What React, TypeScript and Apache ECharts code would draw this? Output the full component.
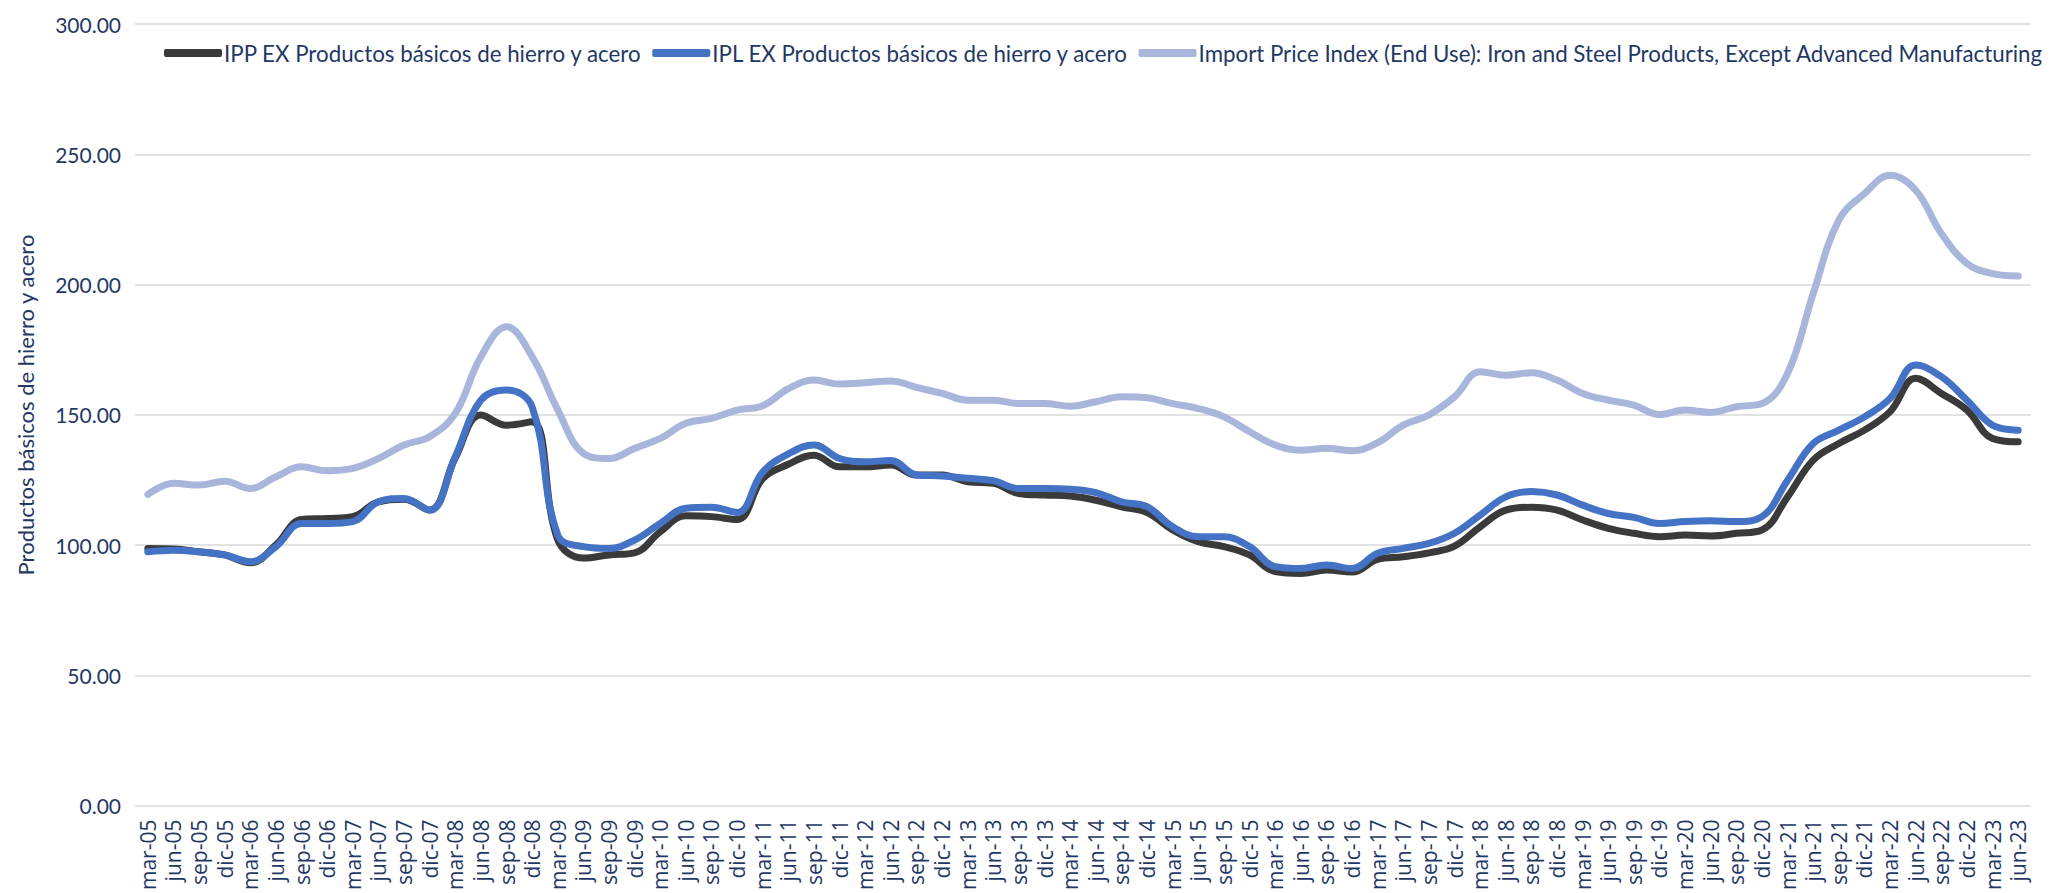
import React, { useEffect, useRef } from "react";
import * as echarts from "echarts";

const categories: string[] = [
  "mar-05","jun-05","sep-05","dic-05","mar-06","jun-06","sep-06","dic-06",
  "mar-07","jun-07","sep-07","dic-07","mar-08","jun-08","sep-08","dic-08",
  "mar-09","jun-09","sep-09","dic-09","mar-10","jun-10","sep-10","dic-10",
  "mar-11","jun-11","sep-11","dic-11","mar-12","jun-12","sep-12","dic-12",
  "mar-13","jun-13","sep-13","dic-13","mar-14","jun-14","sep-14","dic-14",
  "mar-15","jun-15","sep-15","dic-15","mar-16","jun-16","sep-16","dic-16",
  "mar-17","jun-17","sep-17","dic-17","mar-18","jun-18","sep-18","dic-18",
  "mar-19","jun-19","sep-19","dic-19","mar-20","jun-20","sep-20","dic-20",
  "mar-21","jun-21","sep-21","dic-21","mar-22","jun-22","sep-22","dic-22",
  "mar-23","jun-23",
];

const seriesNames: string[] = [
  "IPP EX Productos básicos de hierro y acero",
  "IPL EX Productos básicos de hierro y acero",
  "Import Price Index (End Use): Iron and Steel Products, Except Advanced Manufacturing",
];

const ippValues: number[] = [
  98.7, 98.5, 97.4, 96.2, 93.2, 100, 109.8, 110.2,
  110.9, 116.6, 117.6, 113.4, 133.5, 149.9, 146, 147.3,
  102, 95, 96.2, 97, 105.1, 111.2, 110.9, 109.8,
  125.5, 131, 134.5, 130, 130, 130.7, 126.9, 126.9,
  124.3, 123.7, 119.8, 119.2, 118.8, 117.2, 114.7, 112.5,
  105.8, 101.3, 99.4, 96.2, 89.8, 89.1, 90.4, 89.6,
  94.5, 95.5, 97, 99.6, 107, 113.4, 114.5, 113.4,
  109.6, 106.4, 104.5, 103.2, 103.8, 103.5, 104.5, 105.8,
  118.5, 132.6, 139, 144.1, 151.2, 164, 158.2, 151.8,
  140.9, 139.6,
];

const iplValues: number[] = [
  97.4, 98, 97.4, 96.2, 93.6, 99.4, 108.3, 108.3,
  109, 116.6, 117.9, 113.4, 133.9, 155.6, 159.5, 153,
  103.8, 99.4, 98.7, 101.9, 108.3, 114.1, 114.5, 112.5,
  128, 135, 138.4, 133.2, 132, 132.4, 126.9, 126.5,
  125.6, 124.7, 121.7, 121.7, 121.4, 120.1, 116.6, 114.7,
  107, 103.2, 103.2, 99.4, 91.7, 91, 92.3, 91,
  96.8, 98.7, 100.6, 104.5, 111.5, 118.5, 120.5, 119.2,
  115.3, 112.1, 110.6, 108.3, 109, 109.3, 109, 110.9,
  124.9, 139, 144.1, 149.2, 156.3, 169.1, 164.6, 155.6,
  146, 144.1,
];

const importValues: number[] = [
  119.4, 123.7, 123, 124.5, 121.7, 126.2, 130, 128.5,
  129.4, 133.2, 138.4, 141.6, 150.5, 172.3, 183.8, 172.3,
  151.9, 135.2, 133.2, 137.1, 140.9, 146.7, 148.6, 151.8,
  153.5, 160, 163.3, 161.8, 162.3, 163, 160.5, 158.2,
  155.6, 155.6, 154.3, 154.3, 153.3, 155, 156.9, 156.5,
  154.3, 152.4, 149.2, 143.5, 138.4, 136.4, 137.1, 136.2,
  139.3, 146, 149.9, 156.9, 166.5, 165.2, 166.1, 163.3,
  158.2, 155.6, 153.7, 150.1, 151.8, 150.9, 153.1, 154.3,
  165.9, 196.5, 224.7, 234.9, 241.9, 236.2, 219.6, 208.1,
  204.2, 203.3,
];

const yAxisTitle = "Productos básicos de hierro y acero";

const seriesColors = ["#3A3A3A", "#4472C4", "#A9B6DC"];
const textColor = "#1F3864";

export default function App() {
  const ref = useRef<HTMLDivElement>(null);

  useEffect(() => {
    if (!ref.current) return;
    const chart = echarts.init(ref.current, undefined, { renderer: "svg" });
    const values = [ippValues, iplValues, importValues];
    chart.setOption({
      animation: false,
      backgroundColor: "#ffffff",
      grid: { left: 135, right: 21, top: 24, bottom: 87, containLabel: false },
      legend: {
        left: 159,
        top: 37,
        width: 1893,
        icon: "roundRect",
        itemWidth: 58,
        itemHeight: 8,
        itemGap: 10,
        textStyle: {
          fontFamily: "Lato",
          fontSize: 22.3,
          color: textColor,
          padding: [0, 0, 0, -3],
        },
        data: seriesNames,
      },
      xAxis: {
        type: "category",
        data: categories,
        boundaryGap: true,
        axisLine: { show: false },
        axisTick: { show: false },
        axisLabel: {
          interval: 0,
          rotate: 90,
          margin: 14,
          fontFamily: "Open Sans",
          fontSize: 21,
          color: textColor,
        },
      },
      yAxis: {
        type: "value",
        min: 0,
        max: 300,
        interval: 50,
        axisLine: { show: false },
        axisTick: { show: false },
        axisLabel: {
          margin: 14,
          fontFamily: "Lato",
          fontSize: 21,
          color: textColor,
          formatter: (v: number) => v.toFixed(2),
        },
        splitLine: { lineStyle: { color: "#D9D9D9", width: 1.5 } },
      },
      graphic: [
        {
          type: "text",
          x: 25,
          y: 405,
          rotation: Math.PI / 2,
          style: {
            text: yAxisTitle,
            fontFamily: "Lato",
            fontSize: 22,
            fill: textColor,
            align: "center",
            verticalAlign: "middle",
          },
        },
      ],
      series: seriesNames.map((name, k) => ({
        name,
        type: "line",
        data: values[k],
        smooth: 0.4,
        showSymbol: false,
        symbol: "none",
        itemStyle: { color: seriesColors[k] },
        lineStyle: { color: seriesColors[k], width: 7, cap: "round", join: "round" },
        z: 2 + k,
      })),
    });
    return () => chart.dispose();
  }, []);

  return (
    <div
      ref={ref}
      style={{ position: "fixed", left: 0, top: 0, width: 2052, height: 893 }}
    />
  );
}
